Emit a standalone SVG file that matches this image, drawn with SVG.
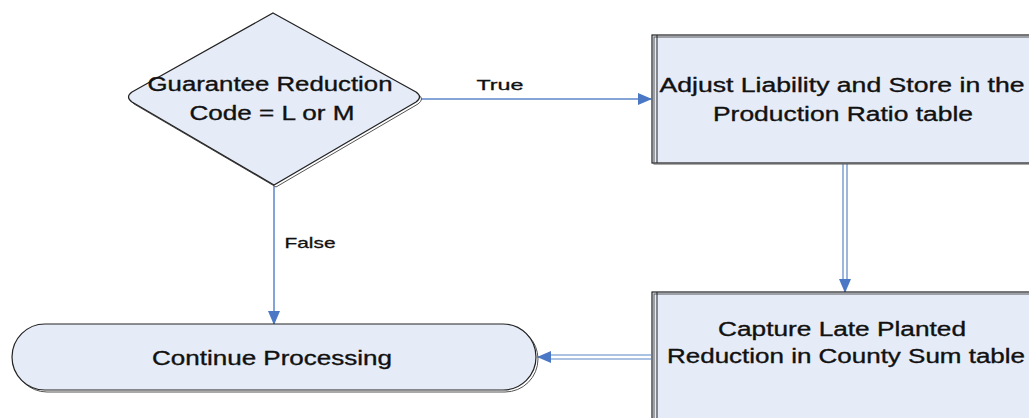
<svg xmlns="http://www.w3.org/2000/svg" width="1029" height="418" viewBox="0 0 1029 418">
<style>
.shape{fill:#e6ecf7;stroke:#222;stroke-width:1.2}
.sh{fill:none;stroke:#555;stroke-width:1}
.t{font-family:"Liberation Sans",Arial,sans-serif;font-size:20px;fill:#111;stroke:#111;stroke-width:0.35;text-anchor:middle}
.lbl{font-family:"Liberation Sans",Arial,sans-serif;font-size:15px;fill:#111;stroke:#111;stroke-width:0.3;text-anchor:middle}
.c{fill:none;stroke:#5b85c8;stroke-width:1.5}
.cd{fill:none;stroke:#5b85c8;stroke-width:1.2}
</style>
<defs>
<marker id="ah" markerWidth="14" markerHeight="12" refX="13" refY="6" orient="auto" markerUnits="userSpaceOnUse">
<path d="M0,0 L14,6 L0,12 Z" fill="#4a78c4"/>
</marker>
</defs>
<g id="connectors">
<line class="c" x1="421" y1="99" x2="651" y2="99" marker-end="url(#ah)"/>
<text class="lbl" x="500" y="90" textLength="47" lengthAdjust="spacingAndGlyphs">True</text>
<line class="c" x1="274" y1="186" x2="274" y2="324" marker-end="url(#ah)"/>
<text class="lbl" x="310" y="248" textLength="51" lengthAdjust="spacingAndGlyphs">False</text>
<line class="cd" x1="843" y1="164" x2="843" y2="282"/>
<line class="cd" x1="847" y1="164" x2="847" y2="282"/>
<line class="c" x1="845" y1="280" x2="845" y2="292" marker-end="url(#ah)"/>
<line class="cd" x1="651" y1="355" x2="548" y2="355"/>
<line class="cd" x1="651" y1="359" x2="548" y2="359"/>
<line class="c" x1="550" y1="357" x2="538" y2="357" marker-end="url(#ah)"/>
</g>
<g id="decision">
<path class="sh" d="M275,15 L418,94 Q425,99 418,104 L276,187 L134,104 Q127,99 134,94 Z"/>
<path class="shape" d="M273,13 L416,92 Q423,97 416,102 L274,185 L132,102 Q125,97 132,92 Z"/>
<text class="t" x="270" y="91" textLength="245" lengthAdjust="spacingAndGlyphs">Guarantee Reduction</text>
<text class="t" x="272" y="120" textLength="165" lengthAdjust="spacingAndGlyphs">Code = L or M</text>
</g>
<g id="adjust">
<rect class="shape" x="652" y="35" width="390" height="128"/>
<rect class="sh" x="654" y="37" width="390" height="127"/>
<line x1="657" y1="35" x2="657" y2="163" stroke="#222" stroke-width="1"/>
<text class="t" x="842" y="92" textLength="365" lengthAdjust="spacingAndGlyphs">Adjust Liability and Store in the</text>
<text class="t" x="843" y="121" textLength="260" lengthAdjust="spacingAndGlyphs">Production Ratio table</text>
</g>
<g id="capture">
<rect class="shape" x="652" y="292" width="390" height="140"/>
<rect class="sh" x="654" y="294" width="390" height="140"/>
<line x1="657" y1="292" x2="657" y2="418" stroke="#222" stroke-width="1"/>
<text class="t" x="842" y="336" textLength="248" lengthAdjust="spacingAndGlyphs">Capture Late Planted</text>
<text class="t" x="846" y="363" textLength="358" lengthAdjust="spacingAndGlyphs">Reduction in County Sum table</text>
</g>
<g id="continue">
<rect class="sh" x="14" y="326" width="524" height="66" rx="33"/>
<rect class="shape" x="12" y="324" width="524" height="66" rx="33"/>
<text class="t" x="272" y="365" textLength="240" lengthAdjust="spacingAndGlyphs">Continue Processing</text>
</g>
</svg>
